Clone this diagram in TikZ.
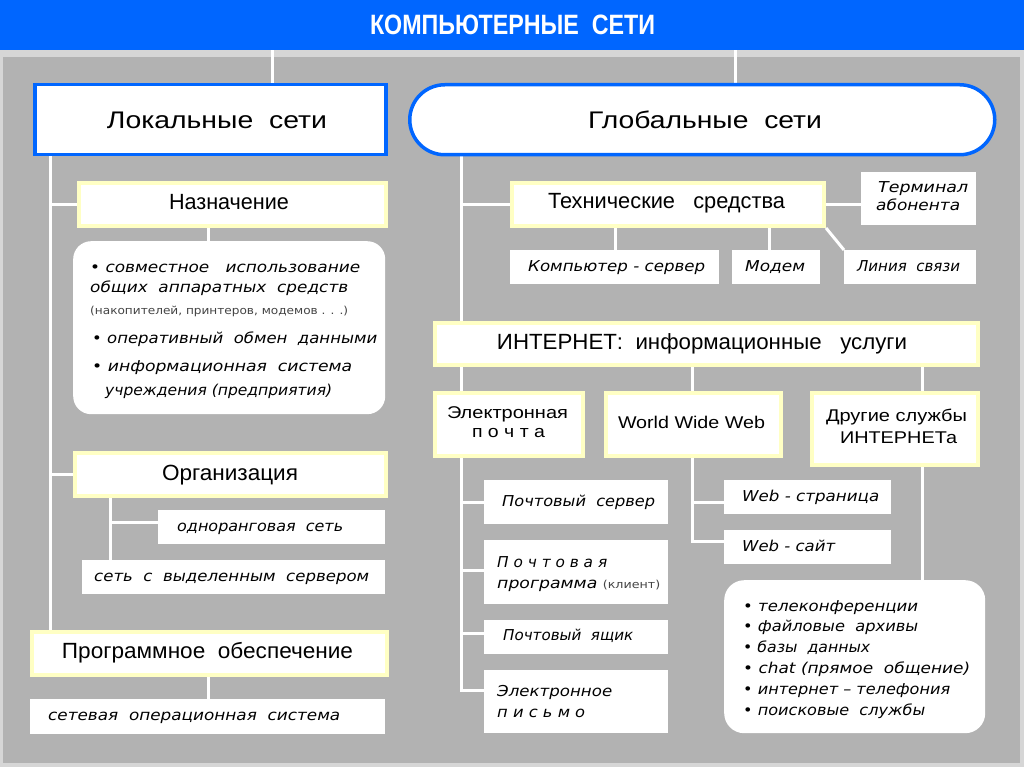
\documentclass[tikz,border=0pt]{standalone}
\usepackage{fontspec}
\usepackage{graphicx}
\usetikzlibrary{backgrounds}
\setmainfont{Liberation Sans}
\newfontfamily\gothic{DejaVu Sans}
\definecolor{bgg}{HTML}{B2B2B2}
\definecolor{frm}{HTML}{D6D6D6}
\definecolor{blu}{HTML}{0066FF}
\definecolor{ylw}{HTML}{FFFFC4}
\definecolor{smallg}{HTML}{444444}
\newcommand\fw[2]{\resizebox{#1pt}{\height}{#2}}
\newcommand\bx[6]{\node[#1, anchor=north west, minimum width={(#4-#2)*1pt}, minimum height={(#5-#3)*1pt}] (#6) at (#2,#3) {};}
\newcommand\smalltxt[1]{{\upshape\fontsize{11}{13}\selectfont\color{smallg}#1}}
\tikzset{
  conn/.style={draw=white, line width=3pt},
  ybox/.style={rectangle, fill=white, draw=ylw, line width=4pt, inner sep=0pt},
  wbox/.style={rectangle, fill=white, inner sep=0pt},
  rbox/.style={rectangle, fill=white, rounded corners=18pt, inner sep=0pt},
  bbox/.style={rectangle, fill=white, draw=blu, line width=3.5pt, inner sep=0pt},
  lbl/.style={inner sep=0pt, anchor=base, font=\fontsize{22}{26}\selectfont},
  slbl/.style={inner sep=0pt, anchor=base, font=\fontsize{17}{20}\selectfont},
  ilbl/.style={inner sep=0pt, anchor=base west, font=\gothic\itshape\fontsize{15}{18}\selectfont},
}
\begin{document}
\begin{tikzpicture}[x=1pt,y=-1pt]
\useasboundingbox (0,0) rectangle (1024,767);
\begin{scope}[on background layer]
  \fill[frm] (0,0) rectangle (1024,767);
  \fill[bgg] (3,57) rectangle (1020,763);
\end{scope}
% header
\node[fill=blu, anchor=north west, minimum width=1024pt, minimum height=50pt, inner sep=0pt] (hdr) at (0,0) {};
\node[inner sep=0pt, anchor=base, text=white, font=\bfseries\fontsize{28}{32}\selectfont] (title) at (512.5,35) {\fw{285}{КОМПЬЮТЕРНЫЕ~~СЕТИ}};
% top level
\bx{bbox}{33}{83}{384}{153}{loc}
\node[rectangle, fill=white, draw=blu, line width=3.5pt, rounded corners=35pt, anchor=north west, minimum width=585pt, minimum height=70pt, inner sep=0pt] (glob) at (408,83) {};
\node[lbl, font=\fontsize{24}{28}\selectfont] (tloc) at (217,129) {\fw{220}{Локальные~~сети}};
\node[lbl, font=\fontsize{24}{28}\selectfont] (tglob) at (705,129) {\fw{234}{Глобальные~~сети}};
% left column
\bx{ybox}{77}{181}{384}{224}{naz}
\node[lbl] (tnaz) at (229,209.5) {\fw{120}{Назначение}};
\bx{rbox}{73}{241}{385}{414}{nzl}
\node[ilbl] (tc1) at (90,272) {\fw{270}{• совместное~~~использование}};
\node[ilbl] (tc2) at (90,292) {\fw{258}{общих~~аппаратных~~средств}};
\node[ilbl] (tc3) at (90,314) {\fw{258}{\smalltxt{(накопителей, принтеров, модемов . . .)}}};
\node[ilbl] (tc4) at (92,343) {\fw{285}{• оперативный~~обмен~~данными}};
\node[ilbl] (tc5) at (92,371) {\fw{260}{• информационная~~система}};
\node[ilbl] (tc6) at (105,395) {\fw{227}{учреждения (предприятия)}};
\bx{ybox}{73}{451}{384}{494}{org}
\node[lbl] (torg) at (230,480) {\fw{136}{Организация}};
\bx{wbox}{158}{510}{385}{544}{odn}
\node[ilbl] (todn) at (177,531) {\fw{166}{одноранговая~~сеть}};
\bx{wbox}{82}{560}{385}{594}{srv}
\node[ilbl] (tsrv) at (94,581) {\fw{275}{сеть~~с~~выделенным~~сервером}};
\bx{ybox}{30}{630}{385}{673}{prog}
\node[lbl] (tprog) at (207.5,658) {\fw{291}{Программное~~обеспечение}};
\bx{wbox}{30}{699}{385}{734}{os}
\node[ilbl] (tos) at (48,720) {\fw{292}{сетевая~~операционная~~система}};
% right column: hardware
\bx{ybox}{510}{181}{822}{224}{tech}
\node[lbl] (ttech) at (666.5,209) {\fw{237}{Технические~~~средства}};
\bx{wbox}{861}{172}{976}{225}{term}
\node[ilbl] (tterm1) at (878,193) {\fw{90}{Терминал}};
\node[ilbl] (tterm2) at (876,211) {\fw{84}{абонента}};
\bx{wbox}{510}{250}{719}{284}{comp}
\node[ilbl] (tcomp) at (528,271) {\fw{177}{Компьютер - сервер}};
\bx{wbox}{732}{250}{820}{284}{modem}
\node[ilbl] (tmodem) at (745,271) {\fw{60}{Модем}};
\bx{wbox}{844}{250}{976}{284}{line}
\node[ilbl] (tline) at (857,271) {\fw{103}{Линия~~связи}};
% internet
\bx{ybox}{433}{321}{976}{363}{inet}
\node[lbl] (tinet) at (702,349) {\fw{410}{ИНТЕРНЕТ:~~информационные~~~услуги}};
\bx{ybox}{433}{391}{581}{454}{mail}
\node[slbl] (tmail1) at (507.5,418) {\fw{121}{Электронная}};
\node[slbl] (tmail2) at (508.5,437) {\fw{73}{п о ч т а}};
\bx{ybox}{604}{391}{779}{454}{www}
\node[slbl] (twww) at (691.5,428) {\fw{147}{World Wide Web}};
\bx{ybox}{810}{391}{976}{463}{other}
\node[slbl] (toth1) at (896.5,421) {\fw{141}{Другие службы}};
\node[slbl] (toth2) at (898.5,443) {\fw{117}{ИНТЕРНЕТа}};
% mail items
\bx{wbox}{484}{480}{668}{524}{ps}
\node[ilbl] (tps) at (502,506) {\fw{153}{Почтовый~~сервер}};
\bx{wbox}{484}{540}{668}{604}{pp}
\node[ilbl] (tpp1) at (497,567) {\fw{110}{П о ч т о в а я}};
\node[ilbl] (tpp2) at (497,588) {\fw{163}{программа \smalltxt{(клиент)}}};
\bx{wbox}{484}{620}{668}{654}{pya}
\node[ilbl] (tpya) at (503,640) {\fw{130}{Почтовый~~ящик}};
\bx{wbox}{484}{670}{668}{733}{ep}
\node[ilbl] (tep1) at (497,696) {\fw{115}{Электронное}};
\node[ilbl] (tep2) at (497,717) {\fw{88}{п и с ь м о}};
% www items
\bx{wbox}{724}{480}{891}{514}{wp}
\node[ilbl] (twp) at (742,501) {\fw{137}{Web - страница}};
\bx{wbox}{724}{530}{891}{564}{ws}
\node[ilbl] (tws) at (742,551) {\fw{93}{Web - сайт}};
% other services list
\node[rectangle, fill=white, rounded corners=20pt, anchor=north west, minimum width=261pt, minimum height=153pt, inner sep=0pt] (svc) at (724,580) {};
\node[ilbl] (ts1) at (743,611) {\fw{175}{• телеконференции}};
\node[ilbl] (ts2) at (743,631) {\fw{175}{• файловые~~архивы}};
\node[ilbl] (ts3) at (743,652) {\fw{127}{• базы~~данных}};
\node[ilbl] (ts4) at (743,673) {\fw{227}{• chat (прямое~~общение)}};
\node[ilbl] (ts5) at (743,694) {\fw{207}{• интернет – телефония}};
\node[ilbl] (ts6) at (743,715) {\fw{182}{• поисковые~~службы}};
% coordinates
\coordinate (cx1) at (272,0);
\coordinate (cx2) at (735,0);
\coordinate (cx3) at (50,0);
\coordinate (cx4) at (208,0);
\coordinate (cx5) at (110,0);
\coordinate (cx6) at (461,0);
\coordinate (cx7) at (615,0);
\coordinate (cx8) at (769,0);
\coordinate (cx9) at (692,0);
\coordinate (cx10) at (922,0);
\coordinate (b1) at (110,522);
\coordinate (m1) at (461,502);
\coordinate (m2) at (461,570);
\coordinate (m3) at (461,633);
\coordinate (m4) at (461,690);
\coordinate (w1) at (692,502);
\coordinate (w2) at (692,541);
\begin{scope}[on background layer]
  \draw[conn] (hdr.south -| cx1) -- (loc.north -| cx1);
  \draw[conn] (hdr.south -| cx2) -- (glob.north -| cx2);
  \draw[conn] (loc.south -| cx3) -- (prog.north -| cx3);
  \draw[conn] (naz.west -| cx3) -- (naz.west);
  \draw[conn] (naz.south -| cx4) -- (nzl.north -| cx4);
  \draw[conn] (org.west -| cx3) -- (org.west);
  \draw[conn] (org.south -| cx5) -- (srv.north -| cx5);
  \draw[conn] (b1) -- (b1 -| odn.west);
  \draw[conn] (prog.south -| cx4) -- (os.north -| cx4);
  \draw[conn] (glob.south -| cx6) -- (inet.north -| cx6);
  \draw[conn] (tech.west -| cx6) -- (tech.west);
  \draw[conn] (tech.east) -- (tech.east -| term.west);
  \draw[conn] (tech.south -| cx7) -- (comp.north -| cx7);
  \draw[conn] (tech.south -| cx8) -- (modem.north -| cx8);
  \draw[conn] (tech.south east) -- (line.north west);
  \draw[conn] (inet.south -| cx6) -- (mail.north -| cx6);
  \draw[conn] (inet.south -| cx9) -- (www.north -| cx9);
  \draw[conn] (inet.south -| cx10) -- (other.north -| cx10);
  \draw[conn] (mail.south -| cx6) -- (m4) -- (m4 -| ep.west);
  \draw[conn] (m1) -- (m1 -| ps.west);
  \draw[conn] (m2) -- (m2 -| pp.west);
  \draw[conn] (m3) -- (m3 -| pya.west);
  \draw[conn] (www.south -| cx9) -- (w2) -- (w2 -| ws.west);
  \draw[conn] (w1) -- (w1 -| wp.west);
  \draw[conn] (other.south -| cx10) -- (svc.north -| cx10);
\end{scope}
\end{tikzpicture}
\end{document}
